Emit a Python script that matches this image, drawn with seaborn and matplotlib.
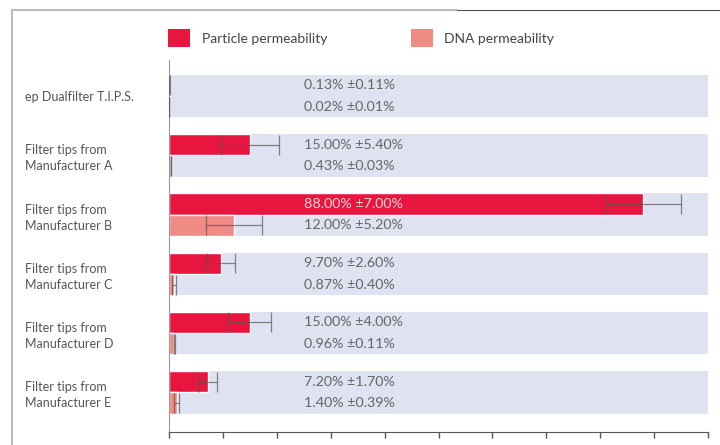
import numpy as np
import pandas as pd
import seaborn as sns
import matplotlib.pyplot as plt
from matplotlib.patches import Patch
from matplotlib.lines import Line2D

labels = ["ep Dualfilter T.I.P.S.",
          "Filter tips from\nManufacturer A",
          "Filter tips from\nManufacturer B",
          "Filter tips from\nManufacturer C",
          "Filter tips from\nManufacturer D",
          "Filter tips from\nManufacturer E"]
particle = [0.13, 15.00, 88.00, 9.70, 15.00, 7.20]
particle_err = [0.11, 5.40, 7.00, 2.60, 4.00, 1.70]
dna = [0.02, 0.43, 12.00, 0.87, 0.96, 1.40]
dna_err = [0.01, 0.03, 5.20, 0.40, 0.11, 0.39]
series = ["Particle permeability", "DNA permeability"]

red = "#e8163f"
salmon = "#f08a85"
band = "#dfe2f0"

df = pd.DataFrame({
    "label": labels * 2,
    "value": particle + dna,
    "err": particle_err + dna_err,
    "measure": [series[0]] * len(labels) + [series[1]] * len(labels),
})

sns.set_style("white")
plt.rcParams['font.family'] = ['Lato', 'DejaVu Sans']

fig = plt.figure(figsize=(7.2, 4.45), dpi=100)
ax = fig.add_axes([169 / 720, 1 - 432 / 445, (708 - 169) / 720, (432 - 60) / 445])

for i in range(len(labels)):
    ax.axhspan(i - 0.36, i + 0.36, color=band, zorder=0, lw=0)

sns.barplot(data=df, y="label", x="value", hue="measure", orient="h",
            palette=[red, salmon], width=0.72, errorbar=None, saturation=1,
            legend=False, ax=ax, zorder=2)

# error bars + value labels
bar_conts = list(ax.containers)
for k, cont in enumerate(bar_conts):
    sub = df[df["measure"] == series[k]]
    for bar, v, e in zip(cont, sub["value"], sub["err"]):
        yc = bar.get_y() + bar.get_height() / 2
        ax.errorbar(v, yc, xerr=e, fmt="none", ecolor="#555555", alpha=0.7,
                    elinewidth=0.9, capsize=7, capthick=0.9, zorder=3)
        col = "#fbd3d9" if v > 30 else "#666666"
        ax.text(25, yc, f"{v:.2f}% ±{e:.2f}%", ha="left", va="center",
                fontsize=10.3, color=col, zorder=4)

ax.set_xlim(0, 100)
ax.set_ylim(5.67, -0.61)
ax.set_xticks(np.arange(0, 101, 10))
ax.set_xticklabels([])
ax.set_xlabel("")
ax.set_ylabel("")
ax.tick_params(axis="x", direction="out", length=4, width=1, color="#555555", bottom=True)
ax.tick_params(axis="y", length=0, pad=103.7, labelsize=9, labelcolor="#555555")
for t in ax.get_yticklabels():
    t.set_horizontalalignment("left")
    t.set_linespacing(1.4)
for s in ["top", "right"]:
    ax.spines[s].set_visible(False)
ax.spines["left"].set_color("#999999")
ax.spines["bottom"].set_color("#555555")

handles = [Patch(facecolor=red, edgecolor="none"), Patch(facecolor=salmon, edgecolor="none")]
fig.legend(handles, series, loc="center left", bbox_to_anchor=(168 / 720, 1 - 38 / 445),
           ncol=2, frameon=False, fontsize=10, handlelength=1.58, handleheight=1.52,
           handletextpad=0.86, columnspacing=6.0, borderpad=0, borderaxespad=0,
           labelcolor="#444444")

# outer frame lines
fig.add_artist(Line2D([12 / 720, 12 / 720], [0, 1 - 10 / 445], color="#bbbbbb", lw=1.5))
fig.add_artist(Line2D([12 / 720, 457 / 720], [1 - 10 / 445, 1 - 10 / 445], color="#bbbbbb", lw=1.5))
fig.add_artist(Line2D([457 / 720, 1], [1 - 10 / 445, 1 - 10 / 445], color="#555555", lw=0.8))

fig.savefig("out.png", dpi=100)
